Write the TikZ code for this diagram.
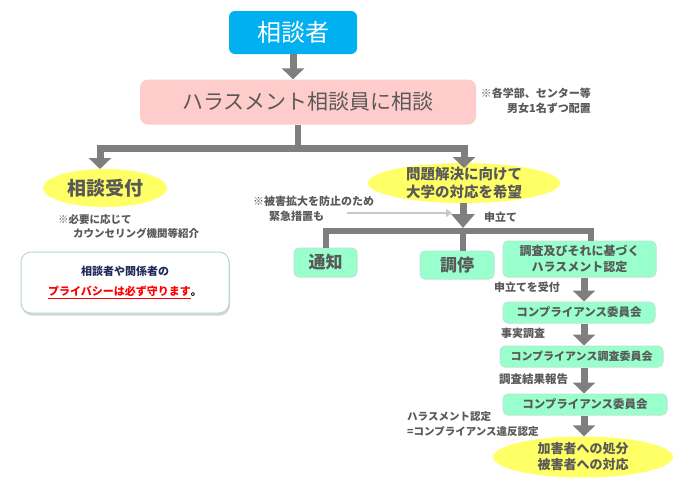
\documentclass[tikz,border=0pt]{standalone}
\usepackage{fontspec}
\setmainfont{Noto Sans CJK JP}
\usetikzlibrary{arrows.meta,shapes.geometric,shadows}
\definecolor{agray}{HTML}{7F7F7F}
\definecolor{tgray}{HTML}{595959}
\definecolor{cyanbox}{HTML}{00B0F0}
\definecolor{pinkbox}{HTML}{FFCCCC}
\definecolor{mint}{HTML}{99FFCC}
\definecolor{mintedge}{HTML}{B8E8D4}
\definecolor{yel}{HTML}{FFFF66}
\definecolor{navy}{HTML}{1F2A5A}
\definecolor{lgray}{HTML}{C8C8C8}
\definecolor{pedge}{HTML}{B7D7DF}
\begin{document}
\begin{tikzpicture}[x=1pt,y=-1pt,
  garrow/.style={draw=agray,line width=7pt,-{Triangle[width=22pt,length=11pt]}},
  gline/.style={draw=agray,line width=6pt},
  larrow/.style={draw=lgray,line width=2.5pt,-{Triangle[width=8pt,length=6pt]}},
  mintbox/.style={draw=mintedge,line width=1pt,fill=mint,rounded corners=5pt,inner sep=0pt,align=center,text=tgray},
  yell/.style={ellipse,fill=yel,inner sep=0pt},
  etext/.style={inner sep=0pt,align=center,text=tgray,font={\bfseries\fontsize{14.5}{18}\selectfont}},
  note/.style={inner sep=0pt,text=tgray,font={\bfseries\fontsize{11}{15}\selectfont}},
  lab/.style={inner sep=0pt,anchor=west,text=tgray,font={\bfseries\fontsize{11}{14}\selectfont}},
  comp/.style={mintbox,font={\bfseries\fontsize{11.5}{14}\selectfont}}
]
\useasboundingbox[fill=white] (0,0) rectangle (690,490);

% top
\node[fill=cyanbox,rounded corners=6pt,minimum width=128pt,minimum height=43pt,inner sep=0pt,text=white,font={\fontsize{24}{28}\selectfont}] (top) at (293,32.5) {相談者};
\node[fill=pinkbox,rounded corners=8pt,minimum width=336pt,minimum height=45pt,inner sep=0pt,text=tgray,font={\fontsize{21}{24}\selectfont}] (mid) at (308,102) {ハラスメント相談員に相談};
\node[note,anchor=east,align=right] (note1) at (591,101) {※各学部、センター等\\男女1名ずつ配置};

% left branch
\node[yell,minimum width=124pt,minimum height=38pt] (uketsuke) at (105,188) {};
\node[etext,font={\bfseries\fontsize{19}{22}\selectfont}] (uketsuket) at (uketsuke) {相談受付};
\node[note,anchor=north west,align=left,font={\bfseries\fontsize{10.5}{14}\selectfont}] (note3) at (58,214) {※必要に応じて\\\hspace*{15pt}カウンセリング機関等紹介};
\node[draw=pedge,line width=1pt,fill=white,rounded corners=10pt,minimum width=208pt,minimum height=61pt,inner sep=0pt,align=center,
  drop shadow={shadow xshift=1pt,shadow yshift=-2.5pt,opacity=0.35,fill=black!45},
  font={\bfseries\fontsize{11}{20}\selectfont}] (privacy) at (125,282.5)
  {\textcolor{navy}{相談者や関係者の}\\\textcolor{red}{\underline{プライバシーは必ず守ります}}\textcolor{black}{。}};

% right branch
\node[yell,minimum width=192pt,minimum height=40pt] (kibo) at (464,183) {};
\node[etext] (kibot) at (kibo) {問題解決に向けて\\大学の対応を希望};
\node[note,anchor=north west,align=left] (note2) at (253,196) {※被害拡大を防止のため\\\hspace*{16pt}緊急措置も};
\node[lab] (moushi) at (484,217) {申立て};

\node[mintbox,minimum width=63pt,minimum height=29pt,font={\bfseries\fontsize{17}{20}\selectfont}] (tsuchi) at (325.5,262.5) {通知};
\node[mintbox,minimum width=74pt,minimum height=28pt,font={\bfseries\fontsize{17}{20}\selectfont}] (chotei) at (457,265) {調停};
\node[mintbox,minimum width=153pt,minimum height=36pt,font={\bfseries\fontsize{12}{16}\selectfont}] (chosa) at (579.5,259) {調査及びそれに基づく\\ハラスメント認定};

\node[lab] (l1) at (494,287) {申立てを受付};
\node[comp,minimum width=152pt,minimum height=21pt] (comp1) at (579,312.5) {コンプライアンス委員会};
\node[lab] (l2) at (501,333) {事実調査};
\node[comp,minimum width=163pt,minimum height=21pt,font={\bfseries\fontsize{11}{14}\selectfont}] (comp2) at (581.5,356.5) {コンプライアンス調査委員会};
\node[lab,font={\bfseries\fontsize{11.5}{14}\selectfont}] (l3) at (499,379) {調査結果報告};
\node[comp,minimum width=164pt,minimum height=21pt] (comp3) at (585,404.5) {コンプライアンス委員会};
\node[lab,align=left,anchor=north west,font={\bfseries\fontsize{10.5}{15}\selectfont}] (l4) at (407,411) {ハラスメント認定\\=コンプライアンス違反認定};
\node[yell,minimum width=180pt,minimum height=41pt] (final) at (583,457) {};
\node[etext,font={\bfseries\fontsize{13}{16}\selectfont}] (finalt) at (final) {加害者への処分\\被害者への対応};

% connectors
\draw[garrow] (top.south) -- (top.south |- mid.north);
\coordinate (j1) at (298,148);
\coordinate (jL) at (100,148);
\coordinate (jR) at (464,148);
\coordinate (tL) at (100,169);
\coordinate (tR) at (464,168);
\draw[gline] (j1 |- mid.south) -- (j1);
\draw[garrow] (j1) -- (jL) -- (tL);
\draw[garrow] (j1) -- (jR) -- (tR);

\coordinate (h) at (463,231);
\coordinate (hR) at (591,231);
\coordinate (ls) at (347,213);
\coordinate (le) at (452,213);
\draw[larrow] (ls) -- (le);
\draw[garrow,-{Triangle[width=23pt,length=14pt]},shorten >=3pt] (h |- kibo.south) -- (h);
\draw[gline] (tsuchi.north) -- (tsuchi.north |- h) -- (hR) -- (hR |- chosa.north);
\draw[gline] (h) -- (h |- chotei.north);

\coordinate (ax) at (584,0);
\draw[garrow] (ax |- chosa.south) -- (ax |- comp1.north);
\draw[garrow] (ax |- comp1.south) -- (ax |- comp2.north);
\draw[garrow] (ax |- comp2.south) -- (ax |- comp3.north);
\draw[garrow] (ax |- comp3.south) -- (ax |- final.north);
\end{tikzpicture}
\end{document}
